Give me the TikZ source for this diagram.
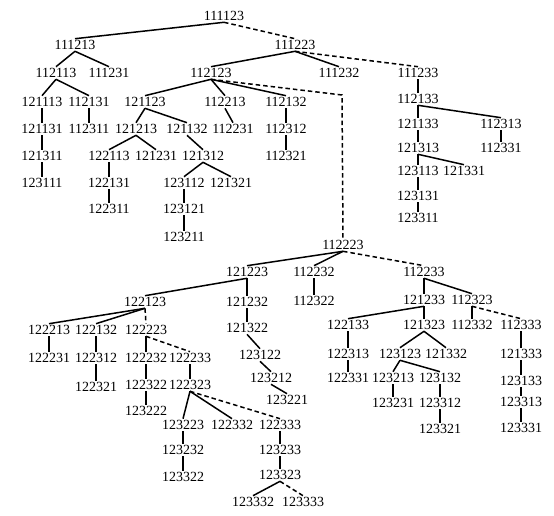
\documentclass[tikz,border=0pt]{standalone}
\usepackage{fontspec}
\setmainfont{Liberation Serif}
\usepackage{tikz}
\usetikzlibrary{positioning}

\begin{document}
\begin{tikzpicture}[x=1pt,y=-1pt,
	every node/.style={inner sep=1.4pt,font=\fontsize{14}{15}\selectfont},
	tlink/.style={line width=1.5pt},
	vlink/.style={line width=2.6pt},
	dlink/.style={line width=1.5pt,dash pattern=on 4.5pt off 3pt}]
\useasboundingbox (0,0) rectangle (554,516);

\foreach \lab/\x/\y in {
	111123/224/16, 111213/75/45, 111223/295/45,
	112113/56/73, 111231/109/73, 112123/211/73, 111232/339/73, 111233/418/73,
	121113/42/102, 112131/89/102, 121123/145/102, 112213/225/102, 112132/286/102, 112133/418/99,
	121131/42/129, 112311/89/129, 121213/136/129, 121132/187/129, 112231/233/129, 112312/286/129,
	121133/418/124, 112313/501/124,
	121311/42/156, 122113/109/156, 121231/156/156, 121312/203/156, 112321/286/156,
	121313/418/148, 112331/501/148,
	123111/42/183, 122131/109/183, 123112/184/183, 121321/231/183,
	123113/418/171, 121331/464/171,
	122311/109/209, 123121/184/209, 123131/418/196,
	123211/184/237, 123311/418/218}
	\node (n\lab) at (\x,\y) {\lab};

\foreach \lab/\x/\y in {
	112223/343/245,
	121223/247/272, 112232/314/272, 112233/424/272,
	122123/145/302, 121232/247/302, 112322/314/301, 121233/424/300, 112323/472/300,
	122213/49/330, 122132/96/330, 122223/146/330, 121322/247/328,
	122133/348/325, 121323/424/325, 112332/472/325, 112333/521/325,
	122231/49/358, 122312/96/358, 122232/146/358, 122233/190/358, 123122/260/355,
	122313/348/354, 123123/400/354, 121332/446/354, 121333/521/354,
	122321/96/387, 122322/146/385, 122323/190/385, 123212/271/378,
	122331/348/378, 123213/393/378, 123132/440/378, 123133/521/381,
	123221/287/400, 123231/393/403, 123312/440/403, 123313/521/402, 123222/146/411,
	123223/183/425, 122332/232/425, 122333/280/425, 123321/440/429, 123331/521/428,
	123232/183/450, 123233/280/450,
	123322/183/477, 123323/280/475,
	123332/253/502, 123333/303/502}
	\node (n\lab) at (\x,\y) {\lab};

\coordinate (bend) at (342,95);

\foreach \a/\b in {
	111123/111213, 111213/112113, 111213/111231, 112113/121113, 112113/112131,
	111223/112123, 111223/111232, 112123/121123, 112123/112213, 112123/112132,
	121123/121213, 121123/121132, 112213/112231, 121213/122113, 121213/121231,
	121132/121312, 121312/123112, 121312/121321, 112133/112313, 121313/121331,
	112223/121223, 112223/112232, 121223/122123, 112233/112323,
	122123/122213, 122123/122132, 121233/122133, 121322/123122,
	121323/123123, 121323/121332, 123122/123212, 123123/123213, 123123/123132,
	122323/123223, 122323/122332, 123212/123221, 123323/123332}
	\draw[tlink] (n\a.south) -- (n\b.north);

\foreach \a/\b in {
	121113/121131, 112131/112311, 121131/121311, 121311/123111,
	112132/112312, 112312/112321, 122113/122131, 122131/122311,
	123112/123121, 123121/123211, 111233/112133, 112133/121133,
	121133/121313, 112313/112331, 121313/123113, 123113/123131, 123131/123311,
	121223/121232, 112232/112322, 112233/121233, 121232/121322,
	121233/121323, 112323/112332, 122213/122231, 122132/122312,
	122223/122232, 122133/122313, 112333/121333, 122312/122321,
	122232/122322, 122233/122323, 122313/122331, 121333/123133,
	122322/123222, 123213/123231, 123132/123312, 123133/123313,
	123223/123232, 122333/123233, 123312/123321, 123313/123331,
	123232/123322, 123233/123323}
	\draw[vlink] (n\a.south) -- (n\b.north);

\foreach \a/\b in {
	111123/111223, 111223/111233, 112223/112233, 122123/122223,
	112323/112333, 122223/122233, 122323/122333, 123323/123333}
	\draw[dlink] (n\a.south) -- (n\b.north);
\draw[dlink] (n112123.south) -- (bend) -- (n112223.north);
\end{tikzpicture}
\end{document}
